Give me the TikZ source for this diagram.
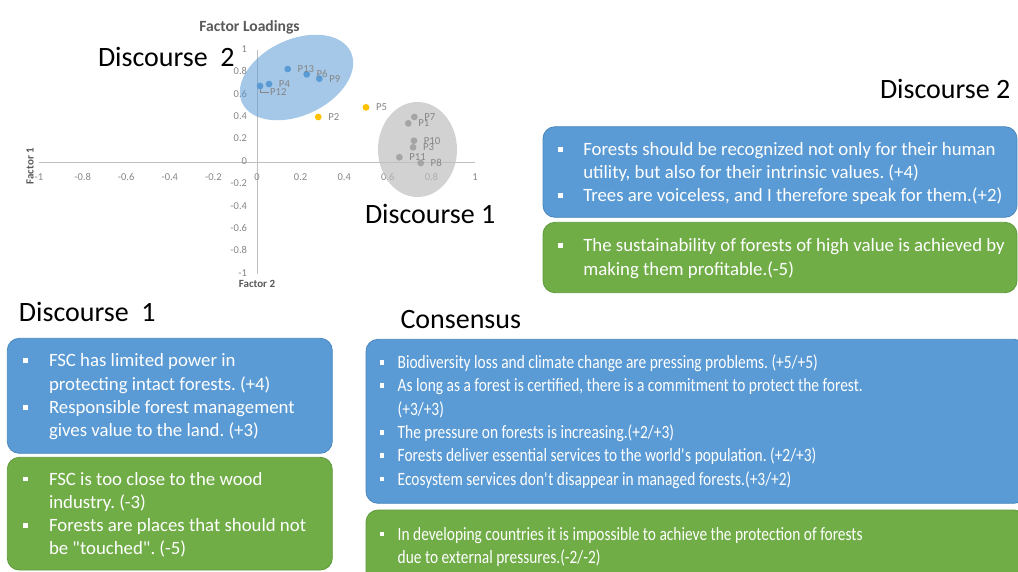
\documentclass[tikz,border=0pt]{standalone}
\usepackage{fontspec}
\setmainfont{Carlito}
\newfontfamily\condfont[FakeStretch=0.82]{Carlito}
\definecolor{boxblue}{HTML}{5B9BD5}
\definecolor{boxblueedge}{HTML}{4A86BE}
\definecolor{boxgreen}{HTML}{70AD47}
\definecolor{boxgreenedge}{HTML}{5F9A3A}
\definecolor{ptblue}{HTML}{5B9BD5}
\definecolor{ptgray}{HTML}{A5A5A5}
\definecolor{ptyellow}{HTML}{FFC000}
\definecolor{tickgray}{HTML}{858585}
\definecolor{titlegray}{HTML}{595959}
\definecolor{axisgray}{HTML}{BFBFBF}
\newcommand\bodysize{\fontsize{18.8}{23}\selectfont}
\newcommand\bodyline[4]{\node[txt] (#1) at (#2,#3) {#4};}
\newcommand\condline[4]{\node[ctxt] (#1) at (#2,#3) {#4};}
\newcommand\sqbullet[3]{\node[sq] (#1) at (#2,#3-6) {};}
\frenchspacing
\begin{document}
\begin{tikzpicture}[x=1pt,y=-1pt,
  every node/.style={inner sep=0pt, outer sep=0pt},
  heading/.style={anchor=base west, font=\fontsize{28}{34}\selectfont},
  ticklab/.style={font=\fontsize{10.5}{12}\selectfont, text=tickgray},
  axtitle/.style={font=\bfseries\fontsize{11}{13}\selectfont, text=titlegray},
  axisline/.style={draw=axisgray, line width=1pt},
  dot/.style={circle, minimum size=6.8pt},
  plabel/.style={anchor=west, xshift=10pt, font=\fontsize{10.7}{12}\selectfont, text=tickgray},
  box/.style={rectangle, rounded corners=12pt, anchor=north west, line width=0.8pt},
  bluebox/.style={box, fill=boxblue, draw=boxblueedge},
  greenbox/.style={box, fill=boxgreen, draw=boxgreenedge},
  txt/.style={anchor=base west, text=white, font=\bodysize},
  ctxt/.style={anchor=base west, text=white, font=\condfont\bodysize},
  sq/.style={rectangle, fill=white, minimum size=4.5pt},
]
\useasboundingbox (0,0) rectangle (1018,571);
\clip (0,0) rectangle (1018,571);

% ---------- factor loading chart: axes and ticks ----------
\begin{scope}[shift={(257,162)}, x=218pt, y=112pt]
  \draw[axisline] (-1,0) -- (1,0);
  \draw[axisline] (0,-1) -- (0,1);
  \foreach \v/\s [count=\k] in {-1/-1,-0.8/-0.8,-0.6/-0.6,-0.4/-0.4,-0.2/-0.2,0/0,0.2/0.2,0.4/0.4,0.6/0.6,0.8/0.8,1/1}
    \node[ticklab] (xt\k) at (\v,0) [yshift=-15pt] {\s};
  \foreach \v/\s [count=\k] in {-1/-1,-0.8/-0.8,-0.6/-0.6,-0.4/-0.4,-0.2/-0.2,0/0,0.2/0.2,0.4/0.4,0.6/0.6,0.8/0.8,1/1}
    \node[ticklab, anchor=mid east] (yt\k) at (0,\v) [xshift=-10pt] {\s};
\end{scope}
\node[font=\bfseries\fontsize{15.6}{18}\selectfont, text=titlegray, anchor=base] (ctitle) at (249.5,31) {Factor Loadings};
\node[axtitle, rotate=90] (f1) at (30,166) {Factor 1};
\node[axtitle, anchor=base] (f2) at (257,287) {Factor 2};

% ---------- discourse clusters ----------
\fill[ptblue, opacity=0.55, rotate around={25:(296.5,77.5)}] (296.5,77.5) ellipse [x radius=60pt, y radius=38pt];
\fill[axisgray, opacity=0.7] (417.5,149.5) ellipse [x radius=39.5pt, y radius=47.5pt];

% ---------- loadings ----------
\begin{scope}[shift={(257,162)}, x=218pt, y=112pt]
  \foreach \n/\a/\b in {P13/0.141/0.830, P6/0.228/0.783, P9/0.286/0.744, P4/0.055/0.696, P12/0.014/0.679}
    \node[dot, fill=ptblue] (\n) at (\a,\b) {};
  \foreach \n/\a/\b in {P2/0.281/0.402, P5/0.5/0.488}
    \node[dot, fill=ptyellow] (\n) at (\a,\b) {};
  \foreach \n/\a/\b in {P7/0.722/0.402, P1/0.694/0.345, P10/0.720/0.190, P3/0.716/0.131, P11/0.653/0.042, P8/0.751/-0.009}
    \node[dot, fill=ptgray] (\n) at (\a,\b) {};
\end{scope}
\foreach \n in {P13,P6,P9,P4,P2,P5,P7,P1,P10,P3,P11,P8}
  \node[plabel] (l\n) at (\n.center) {\n};
\node[plabel, yshift=-6pt] (lP12) at (P12.center) {P12};
\draw[tickgray, line width=0.5pt] ([xshift=0.5pt]P12.south) |- ([xshift=-1pt]lP12.west);

% ---------- headings ----------
\node[heading] (hd2a) at (98,66) {Discourse~~2};
\node[heading] (hd1a) at (365,223.3) {Discourse 1};
\node[heading] (hd2b) at (880,98.3) {Discourse 2};
\node[heading] (hd1b) at (19,321.7) {Discourse~~1};
\node[heading] (hcons) at (400.5,328.3) {Consensus};

% ---------- statement boxes ----------
\node[bluebox, minimum width=474pt, minimum height=90.6pt] (trb) at (543,126.7) {};
\node[greenbox, minimum width=474pt, minimum height=70.4pt] (trg) at (543,222.3) {};
\node[bluebox, minimum width=325pt, minimum height=115pt] (blb) at (7.3,338.3) {};
\node[greenbox, minimum width=325pt, minimum height=112.7pt] (blg) at (7.3,457.3) {};
\node[bluebox, minimum width=660pt, minimum height=164pt] (cb) at (366,339.3) {};
\node[greenbox, minimum width=660pt, minimum height=80pt] (cg) at (366,510) {};

% Discourse 2 statements
\sqbullet{trb1}{560.3}{155.7}
\bodyline{trt1}{583.3}{155.7}{Forests should be recognized not only for their human}
\bodyline{trt2}{583.3}{178.3}{utility, but also for their intrinsic values. (+4)}
\sqbullet{trb2}{560.3}{201.7}
\bodyline{trt3}{583.3}{201.7}{Trees are voiceless, and I therefore speak for them.(+2)}
\sqbullet{trg1}{560.3}{251.7}
\bodyline{trgt1}{583.3}{251.7}{The sustainability of forests of high value is achieved by}
\bodyline{trgt2}{583.3}{275}{making them profitable.(-5)}

% Discourse 1 statements
\sqbullet{blb1}{25.3}{366.7}
\bodyline{blt1}{49}{366.7}{FSC has limited power in}
\bodyline{blt2}{49}{390}{protecting intact forests. (+4)}
\sqbullet{blb2}{25.3}{413.3}
\bodyline{blt3}{49}{413.3}{Responsible forest management}
\bodyline{blt4}{49}{436.7}{gives value to the land. (+3)}
\sqbullet{blg1}{25.3}{485}
\bodyline{blgt1}{49}{485}{FSC is too close to the wood}
\bodyline{blgt2}{49}{508.3}{industry. (-3)}
\sqbullet{blg2}{25.3}{531.7}
\bodyline{blgt3}{49}{531.7}{Forests are places that should not}
\bodyline{blgt4}{49}{554}{be \textquotedbl touched\textquotedbl. (-5)}

% Consensus statements
\sqbullet{cb1}{382}{368.3}
\condline{ct1}{397.7}{368.3}{Biodiversity loss and climate change are pressing problems. (+5/+5)}
\sqbullet{cb2}{382}{391.7}
\condline{ct2}{397.7}{391.7}{As long as a forest is certified, there is a commitment to protect the forest.}
\condline{ct3}{397.7}{415}{(+3/+3)}
\sqbullet{cb3}{382}{438.3}
\condline{ct4}{397.7}{438.3}{The pressure on forests is increasing.(+2/+3)}
\sqbullet{cb4}{382}{461.7}
\condline{ct5}{397.7}{461.7}{Forests deliver essential services to the world\textquotesingle s population. (+2/+3)}
\sqbullet{cb5}{382}{485}
\condline{ct6}{397.7}{485}{Ecosystem services don\textquotesingle t disappear in managed forests.(+3/+2)}
\sqbullet{cg1}{382}{540}
\condline{cgt1}{397.7}{540}{In developing countries it is impossible to achieve the protection of forests}
\condline{cgt2}{397.7}{563.3}{due to external pressures.(-2/-2)}
\end{tikzpicture}
\end{document}
